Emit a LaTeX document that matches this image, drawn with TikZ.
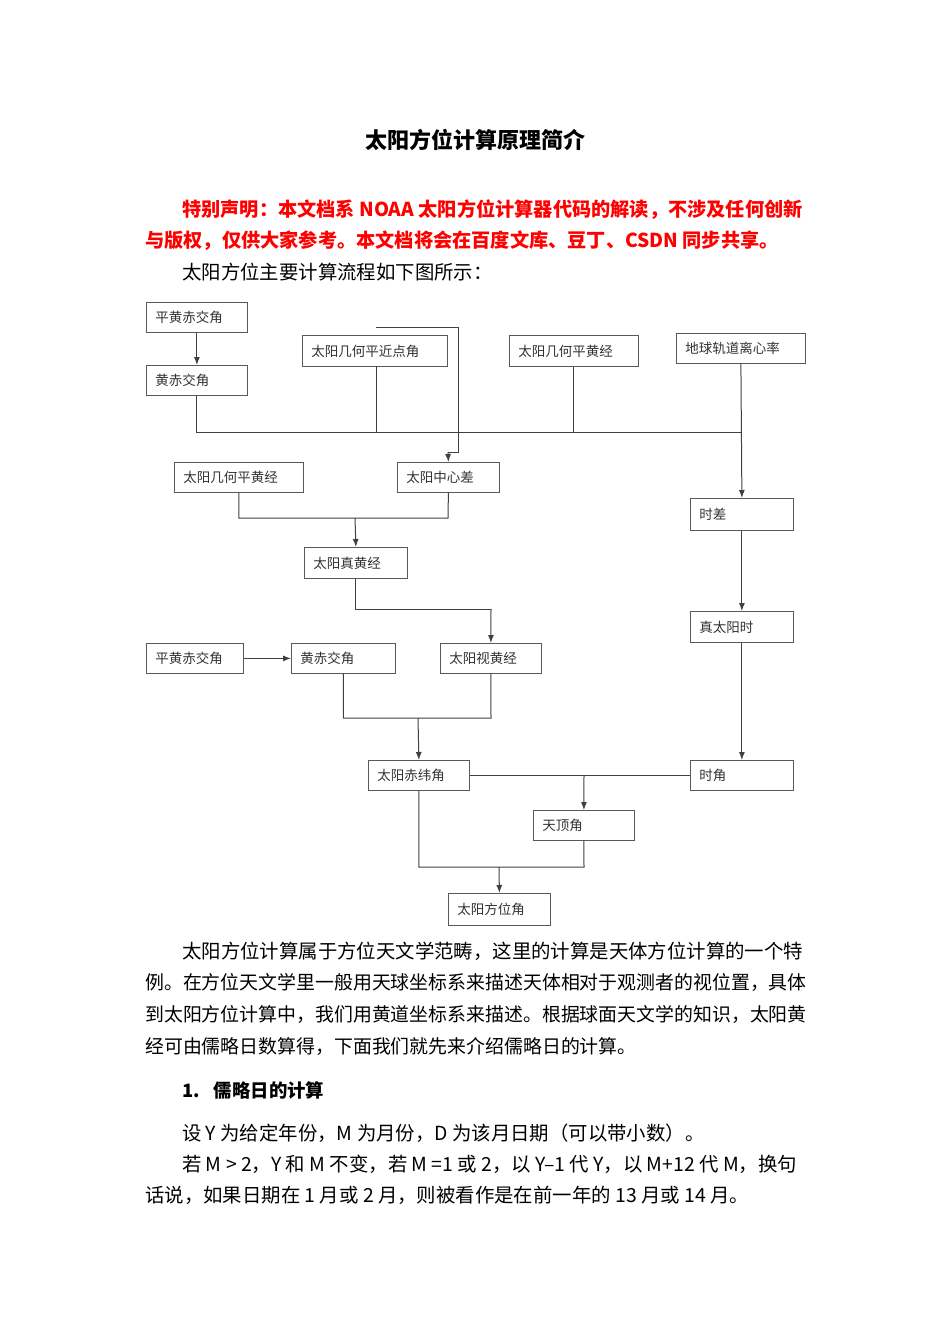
\documentclass[tikz,border=0pt]{standalone}
\usepackage{fontspec}
\newfontfamily\cjk{Noto Sans CJK SC}
\usetikzlibrary{arrows.meta}
\begin{document}
\begin{tikzpicture}[x=1pt,y=-1pt,
  box/.style={draw=black!65,line width=0.8pt,fill=white,anchor=north west,inner xsep=9pt,inner ysep=0pt,font=\cjk\fontsize{13.5}{15}\selectfont,text=black!80,align=left},
  ln/.style={draw=black!75,line width=1pt},
  ar/.style={ln,-{Latex[length=8pt,width=6pt]}},
  body/.style={anchor=west,inner sep=0pt,font=\cjk\fontsize{19.4}{21}\selectfont},
  bodyn/.style={body,font=\cjk\fontsize{18.9}{21}\selectfont},
  red/.style={body,text=red,font=\cjk\bfseries\fontsize{19.2}{21}\selectfont}]
\useasboundingbox (0,0) rectangle (950,1344);
\newcommand\bx[6]{\node[box,minimum width={#4-#2},minimum height={#5-#3},text width={#4-#2-18}] (#1) at (#2,#3) {#6};}
\node[font=\cjk\bfseries\fontsize{22}{24}\selectfont] (title) at (475,140) {太阳方位计算原理简介};
\node[red] (r1) at (182,210) {特别声明：本文档系 NOAA 太阳方位计算器代码的解读，不涉及任何创新};
\node[red] (r2) at (145,241) {与版权，仅供大家参考。本文档将会在百度文库、豆丁、CSDN 同步共享。};
\node[body] (t0) at (182,272) {太阳方位主要计算流程如下图所示：};
% boxes
\coordinate (bus) at (0,432);
\draw[ln] (376,327) -- (458,327) -- (458,452) -- (448,452);
\bx{b1}{146}{302}{247}{332}{平黄赤交角}
\bx{b2}{146}{365}{247}{395}{黄赤交角}
\bx{b3}{302}{335}{447}{366}{太阳几何平近点角}
\bx{b4}{509}{335}{638}{366}{太阳几何平黄经}
\bx{b5}{676}{333}{805}{363}{地球轨道离心率}
\bx{b6}{174}{462}{303}{492}{太阳几何平黄经}
\bx{b7}{397}{462}{499}{492}{太阳中心差}
\bx{b8}{690}{498}{793}{530}{时差}
\bx{b9}{304}{547}{407}{578}{太阳真黄经}
\bx{b10}{690}{611}{793}{642}{真太阳时}
\bx{b11}{146}{643}{243}{673}{平黄赤交角}
\bx{b12}{291}{643}{395}{673}{黄赤交角}
\bx{b13}{440}{643}{541}{673}{太阳视黄经}
\bx{b14}{368}{760}{469}{790}{太阳赤纬角}
\bx{b15}{690}{760}{793}{790}{时角}
\bx{b16}{533}{810}{634}{840}{天顶角}
\bx{b17}{448}{893}{550}{925}{太阳方位角}
% connectors
\draw[ar] (b1.south) -- (b2.north);
\draw[ln] (b2.south) |- (bus -| b5.south);
\draw[ln] (376,366) -- (376,432);
\draw[ln] (b4.south) -- (b4.south |- bus);
\draw[ar] (b5.south) -- (b8.north);
\draw[ar] (448,452) -- (b7.north);
\draw[ln] (b6.south) |- (448,518) -- (b7.south);
\draw[ar] (355,518) -- (b9.north);
\draw[ln] (b9.south) |- (491,609);
\draw[ar] (491,609) -- (b13.north);
\draw[ar] (b8.south) -- (b10.north);
\draw[ar] (b10.south) -- (b15.north);
\draw[ar] (b11.east) -- (b12.west);
\draw[ln] (b12.south) |- (491,718) -- (b13.south);
\draw[ar] (418,718) -- (b14.north);
\draw[ln,line width=1.5pt] (b14.east) -- (b15.west);
\draw[ar] (584,775) -- (b16.north);
\draw[ln] (b14.south) |- (584,867) -- (b16.south);
\draw[ar] (499,867) -- (b17.north);
% body text
\node[body] (p1) at (182,951) {太阳方位计算属于方位天文学范畴，这里的计算是天体方位计算的一个特};
\node[bodyn] (p2) at (145,982) {例。在方位天文学里一般用天球坐标系来描述天体相对于观测者的视位置，具体};
\node[bodyn] (p3) at (145,1014) {到太阳方位计算中，我们用黄道坐标系来描述。根据球面天文学的知识，太阳黄};
\node[bodyn] (p4) at (145,1046) {经可由儒略日数算得，下面我们就先来介绍儒略日的计算。};
\node[body,font=\cjk\bfseries\fontsize{18.4}{20}\selectfont] (h1) at (182,1090) {1.\hspace{14pt}儒略日的计算};
\node[body] (p5) at (182,1133) {设 Y 为给定年份，M 为月份，D 为该月日期（可以带小数）。};
\node[body] (p6) at (182,1164) {若 M > 2，Y 和 M 不变，若  M =1 或 2，以 Y–1 代 Y，以 M+12 代 M，换句};
\node[body] (p7) at (145,1195) {话说，如果日期在 1 月或 2 月，则被看作是在前一年的 13 月或 14 月。};
\end{tikzpicture}
\end{document}
